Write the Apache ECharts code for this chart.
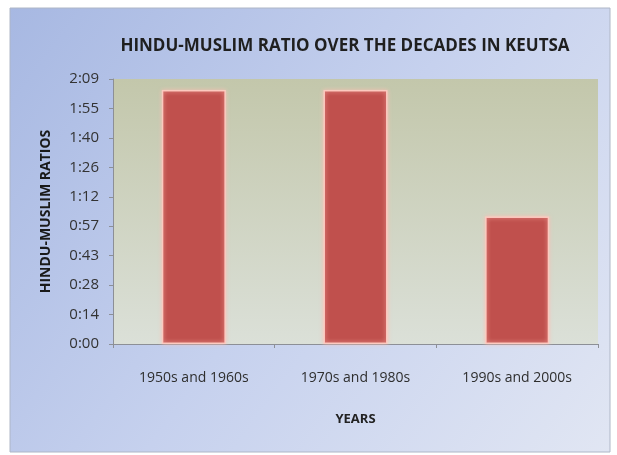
<!DOCTYPE html>
<html>
<head>
<meta charset="utf-8">
<script src="https://cdn.jsdelivr.net/npm/echarts@6/dist/echarts.min.js"></script>
<style>html,body{margin:0;padding:0;background:#fff;}#c{width:617px;height:455px;}</style>
</head>
<body>
<div id="c"></div>
<script>
// Data (values are Excel time fractions of a day, shown as h:mm)
var categories = ['1950s and 1960s', '1970s and 1980s', '1990s and 2000s'];
var ratioValues = [0.0863, 0.0863, 0.0433];
var yTickLabels = ['0:00', '0:14', '0:28', '0:43', '0:57', '1:12', '1:26', '1:40', '1:55', '2:09'];

var FONT = '"Liberation Sans Narrow", "Open Sans", "Liberation Sans", sans-serif';
var chart = echarts.init(document.getElementById('c'));
chart.setOption({
  backgroundColor: '#ffffff',
  animation: false,
  graphic: [{
    type: 'rect', z: -10, silent: true,
    shape: { x: 10, y: 8, width: 600, height: 444 },
    style: {
      fill: new echarts.graphic.LinearGradient(0, 0, 1, 1, [
        { offset: 0, color: '#a7b8e2' },
        { offset: 0.5, color: '#c6d1ee' },
        { offset: 1, color: '#e1e6f3' }
      ]),
      stroke: '#aeb6c6', lineWidth: 1
    }
  }],
  title: {
    text: 'HINDU-MUSLIM RATIO OVER THE DECADES IN KEUTSA',
    left: 340, top: 33, textAlign: 'center',
    textStyle: { fontFamily: FONT, fontSize: 17, fontWeight: 'bold', color: '#1f1f1f' }
  },
  grid: {
    left: 113, right: 19, top: 79, bottom: 111,
    show: true, borderWidth: 0,
    backgroundColor: new echarts.graphic.LinearGradient(0, 0, 0, 1, [
      { offset: 0, color: '#c3c7ab' },
      { offset: 1, color: '#dbe0d8' }
    ])
  },
  xAxis: {
    type: 'category', data: categories,
    name: 'YEARS', nameLocation: 'middle', nameGap: 69,
    nameTextStyle: { fontFamily: FONT, fontSize: 13, fontWeight: 'bold', color: '#222' },
    axisLine: { lineStyle: { color: '#8c8f96' } },
    axisTick: { show: true, length: 4, lineStyle: { color: '#8c8f96' } },
    axisLabel: { fontFamily: FONT, fontSize: 14, color: '#2e2e2e', margin: 27 }
  },
  yAxis: {
    type: 'value', min: 0, max: 0.09, interval: 0.01,
    name: 'HINDU-MUSLIM RATIOS', nameLocation: 'middle', nameGap: 60,
    nameTextStyle: { fontFamily: FONT, fontSize: 14, fontWeight: 'bold', color: '#1a1a1a' },
    axisLine: { show: true, lineStyle: { color: '#8c8f96' } },
    axisTick: { show: true, length: 4, lineStyle: { color: '#8c8f96' } },
    splitLine: { show: false },
    axisLabel: {
      fontFamily: FONT, fontSize: 15, color: '#333', margin: 14,
      formatter: function (v) { return yTickLabels[Math.round(v / 0.01)] || ''; }
    }
  },
  series: [{
    type: 'bar', data: ratioValues, barWidth: 64,
    itemStyle: {
      color: '#c0504d',
      borderColor: 'rgba(255,205,195,0.9)', borderWidth: 1.5,
      shadowBlur: 4, shadowColor: 'rgba(255,190,180,0.9)'
    }
  }]
});
</script>
</body>
</html>
